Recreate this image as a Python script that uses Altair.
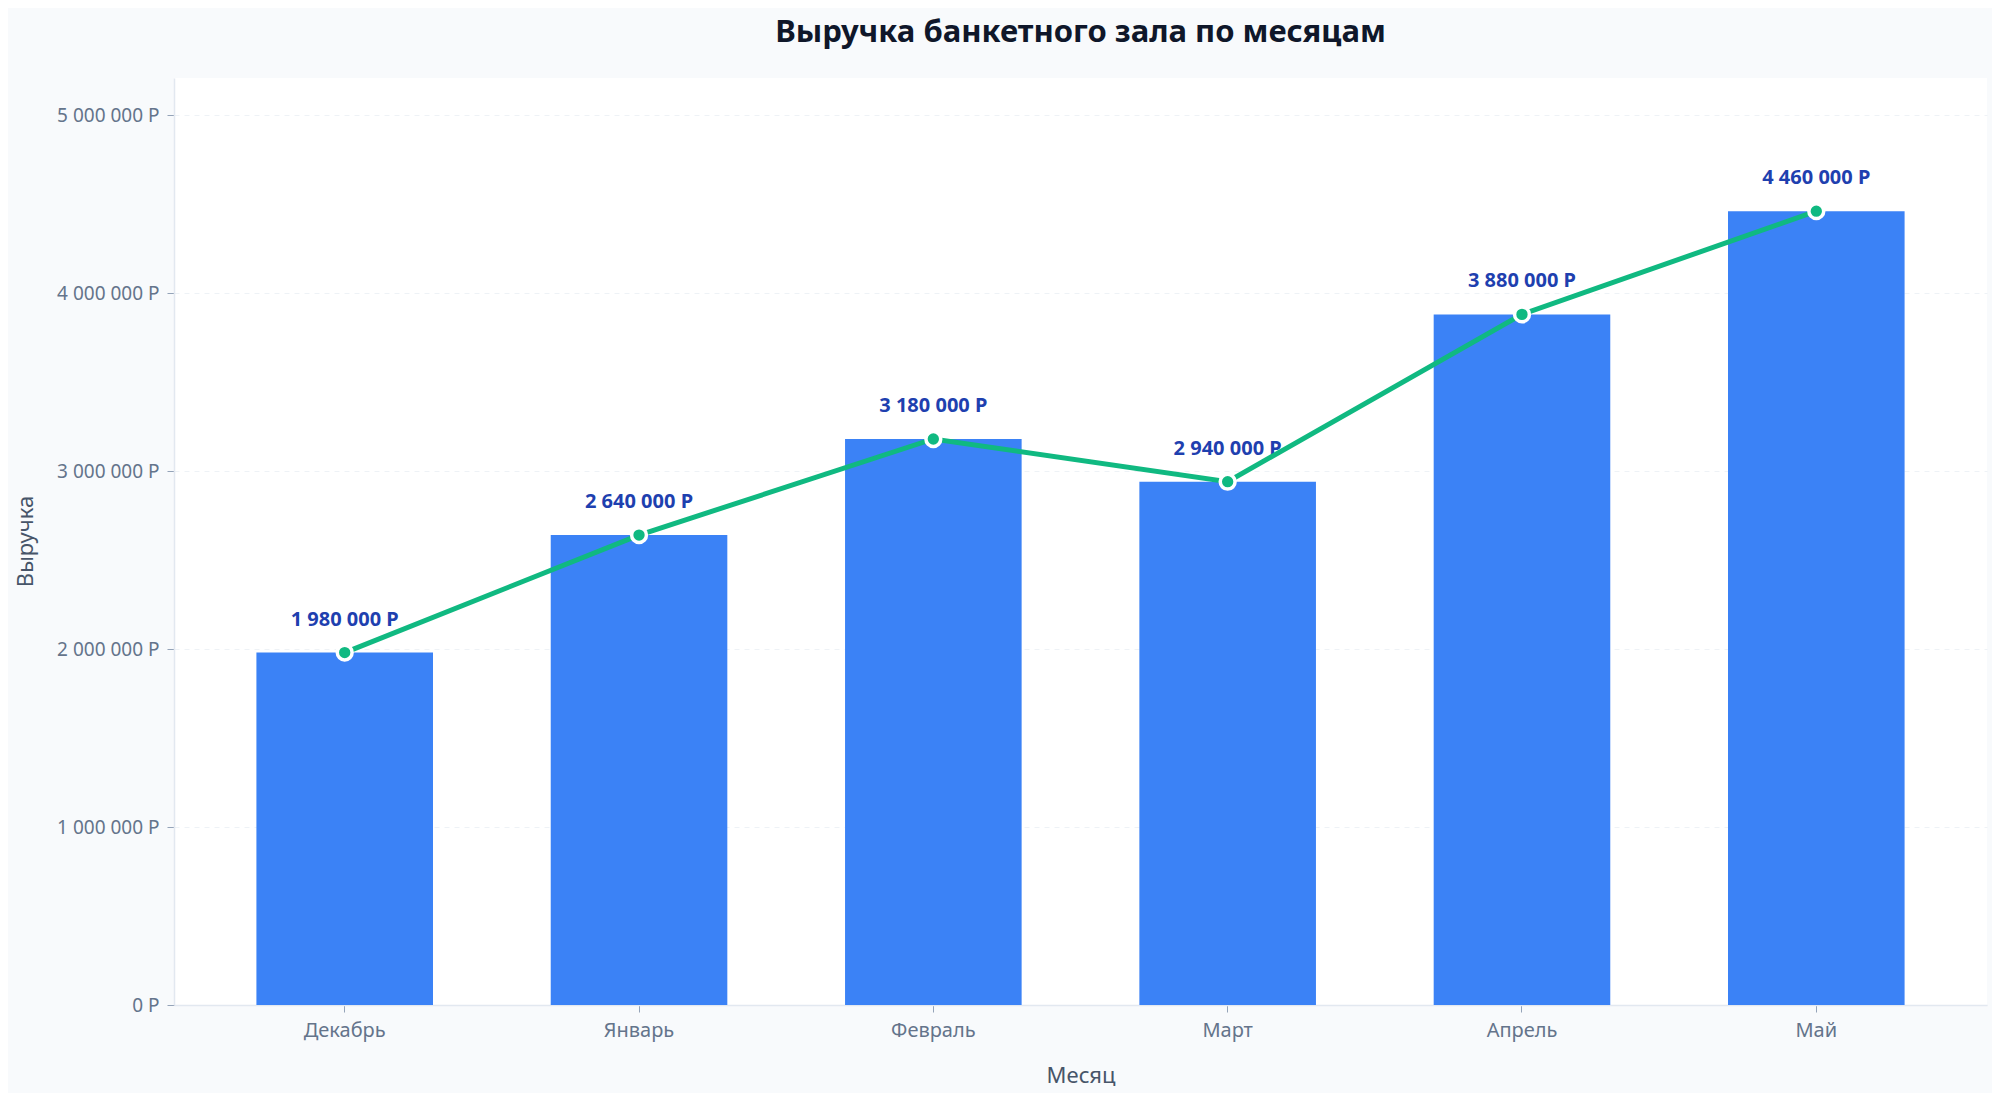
import altair as alt
import pandas as pd

months = ["Декабрь", "Январь", "Февраль", "Март", "Апрель", "Май"]
revenue = [1980000, 2640000, 3180000, 2940000, 3880000, 4460000]
labels = [f"{v:,}".replace(",", " ") + " Р" for v in revenue]

df = pd.DataFrame({"month": months, "revenue": revenue, "label": labels})

FONT = "Noto Sans"

x_enc = alt.X(
    "month:N",
    sort=months,
    scale=alt.Scale(paddingInner=0.4, paddingOuter=0.28),
    axis=alt.Axis(
        title="Месяц",
        labelAngle=0,
        labelFontSize=20,
        labelColor="#64748b",
        labelPadding=8,
        tickSize=7,
        tickColor="#94a3b8",
        domainColor="#e2e8f0",
        domainWidth=1.5,
        titleFontSize=22,
        titleFontWeight="normal",
        titleColor="#475569",
        titleX=906.5,
        titleY=70,
        titleBaseline="middle",
        grid=False,
    ),
)

y_scale = alt.Scale(domain=[0, 5208000], nice=False, zero=True)

bars = alt.Chart(df).mark_bar(color="#3b82f6").encode(
    x=x_enc,
    y=alt.Y(
        "revenue:Q",
        scale=y_scale,
        axis=alt.Axis(
            title="Выручка",
            values=[0, 1000000, 2000000, 3000000, 4000000, 5000000],
            labelExpr="replace(format(datum.value, ',d'), /,/g, ' ') + ' Р'",
            labelFontSize=19,
            labelColor="#64748b",
            labelPadding=8,
            tickSize=7,
            tickColor="#94a3b8",
            domainColor="#e2e8f0",
            domainWidth=1.5,
            grid=True,
            gridColor="#eef2f6",
            gridDash=[5, 5],
            gridWidth=1,
            titleFontSize=22,
            titleFontWeight="normal",
            titleColor="#475569",
            titleX=-149,
            titleY=463,
            titleBaseline="middle",
            titleAlign="center",
        ),
    ),
)

text = alt.Chart(df).mark_text(
    dy=-33, fontSize=20, fontWeight="bold", color="#1e40af", baseline="middle"
).encode(
    x=alt.X("month:N", sort=months),
    y=alt.Y("revenue:Q", scale=y_scale),
    text="label:N",
)

line = alt.Chart(df).mark_line(color="#10b981", strokeWidth=5).encode(
    x=alt.X("month:N", sort=months),
    y=alt.Y("revenue:Q", scale=y_scale),
)

points = alt.Chart(df).mark_point(
    filled=True, fill="#10b981", stroke="white", strokeWidth=3.5, size=220, opacity=1
).encode(
    x=alt.X("month:N", sort=months),
    y=alt.Y("revenue:Q", scale=y_scale),
)

chart = (
    alt.layer(bars, text, line, points)
    .properties(
        width=1813,
        height=927,
        autosize=alt.AutoSizeParams(type="none"),
        padding={"left": 166, "top": 70, "right": 5, "bottom": 88},
        background="#f8fafc",
        title=alt.TitleParams(
            "Выручка банкетного зала по месяцам",
            fontSize=31,
            fontWeight="bold",
            color="#0f172a",
            anchor="middle",
            offset=29,
            font=FONT,
        ),
    )
    .configure(font=FONT)
    .configure_view(fill="white", stroke=None)
)

chart.save("out.html", embed_options={"renderer": "svg", "actions": False})
